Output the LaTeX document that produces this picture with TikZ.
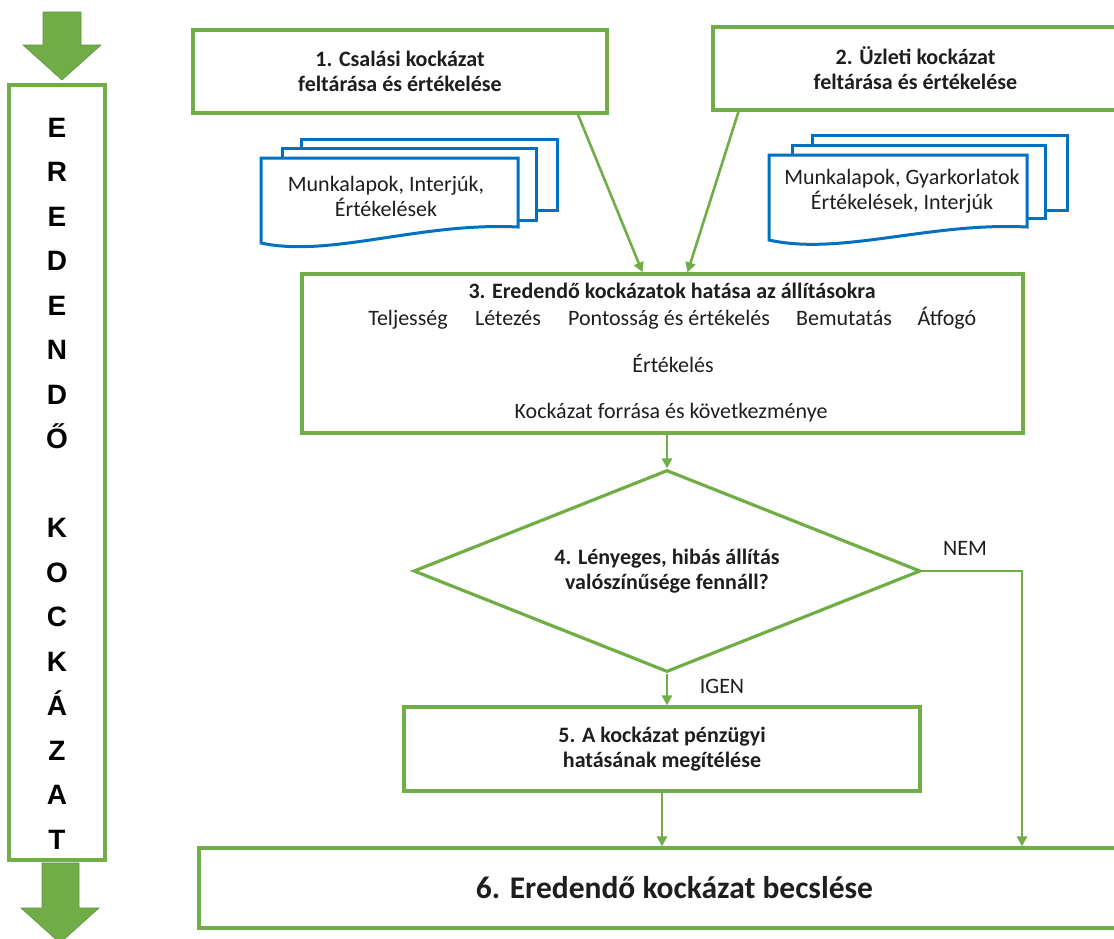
\documentclass[tikz,border=0pt]{standalone}
\usepackage{fontspec}
\setmainfont{Carlito}
\newfontfamily\letterfont{Liberation Sans}
\usetikzlibrary{arrows.meta,shapes.geometric}
\definecolor{boxgreen}{RGB}{112,173,71}
\definecolor{docblue}{RGB}{0,112,192}
\definecolor{txtgrey}{RGB}{30,30,30}

\begin{document}
\begin{tikzpicture}[x=1pt, y=-1pt,
    every node/.style = {text=txtgrey, font=\fontsize{22}{25}\selectfont},
    stepbox/.style = {draw=boxgreen, line width=3.2pt, fill=white, align=center,
        inner sep=0pt, font=\fontsize{22}{25}\selectfont\bfseries},
    decision/.style = {diamond, aspect=2.5, draw=boxgreen, line width=3.2pt, align=center,
        inner sep=0pt, font=\fontsize{22}{25}\selectfont\bfseries},
    sideletter/.style = {text=black, inner sep=0pt, text height=20pt, text depth=0pt,
        font=\letterfont\bfseries\fontsize{28}{28}\selectfont},
    page/.style = {draw=docblue, line width=3pt, fill=white, line join=miter},
    flow/.style = {draw=boxgreen, line width=2.6pt, -{Triangle[width=10pt,length=10pt]}},
    bigarrow/.style = {fill=boxgreen, draw=boxgreen!85!black, line width=0.6pt}]

    \useasboundingbox (0,0) rectangle (1114,938);
    \clip (0,0) rectangle (1114,938);

    % left column with the big arrows
    \draw[bigarrow] (43,12) -- (81,12) -- (81,45) -- (101,45) -- (62,80) -- (23,45) -- (43,45) -- cycle;
    \draw[bigarrow] (42,863) -- (79,863) -- (79,908) -- (99,908) -- (60,943) -- (21,908) -- (42,908) -- cycle;
    \node[stepbox, minimum width=96pt, minimum height=775pt] (side) at (57,472.5) {};
    \foreach \ch [count=\i] in {E,R,E,D,E,N,D,Ő,{},K,O,C,K,Á,Z,A,T}
        \node[sideletter] (let\i) at (57,{127+(\i-1)*44.5}) {\ch};

    % source boxes
    \node[stepbox, minimum width=414pt, minimum height=83pt] (b1) at (400,71.5)
        {1. Csalási kockázat\\feltárása és értékelése};
    \node[stepbox, minimum width=405pt, minimum height=83pt] (b2) at (915.5,68.5)
        {2. Üzleti kockázat\\feltárása és értékelése};

    % document stacks
    \draw[page] (301,139) rectangle (557,210);
    \draw[page] (282,148) rectangle (536,220);
    \draw[page] (261,158) -- (518,158) -- (518,227)
        .. controls (420,222) and (330,258) .. (261,243) -- cycle;
    \node[align=center] (doc1) at (386,196) {Munkalapok, Interjúk,\\Értékelések};

    \draw[page] (812,135) rectangle (1067,210);
    \draw[page] (792,145) rectangle (1045,218);
    \draw[page] (769,155) -- (1027,155) -- (1027,227)
        .. controls (930,222) and (840,256) .. (769,240) -- cycle;
    \node[align=center] (doc2) at (902,191) {Munkalapok, Gyarkorlatok\\Értékelések, Interjúk};

    % assertions box
    \node[stepbox, minimum width=721pt, minimum height=159pt] (eff) at (662.5,353.5) {};
    \node[anchor=base, font=\fontsize{22}{25}\selectfont\bfseries] (efftitle) at (672,298)
        {3. Eredendő kockázatok hatása az állításokra};
    \node[anchor=base] (tel) at (408,325) {Teljesség};
    \node[anchor=base] (let) at (508,325) {Létezés};
    \node[anchor=base] (pon) at (669,325) {Pontosság és értékelés};
    \node[anchor=base] (bem) at (844,325) {Bemutatás};
    \node[anchor=base] (atf) at (947,325) {Átfogó};
    \node[anchor=base] (ert) at (673,372) {Értékelés};
    \node[anchor=base] (forr) at (671,418) {Kockázat forrása és következménye};

    % decision and remaining steps
    \node[decision, minimum width=507pt, minimum height=202pt] (dia) at (667,571)
        {4. Lényeges, hibás állítás\\valószínűsége fennáll?};
    \node[stepbox, minimum width=516pt, minimum height=84pt] (b5) at (662,749)
        {5. A kockázat pénzügyi\\hatásának megítélése};
    \node[stepbox, minimum width=951pt, minimum height=80pt,
        font=\fontsize{31.5}{34}\selectfont\bfseries] (b6) at (674.5,888)
        {6. Eredendő kockázat becslése};

    \node (nem) at (965,548) {NEM};
    \node (igen) at (722,686) {IGEN};

    % connectors
    \draw[flow] ([xshift=178pt]b1.south) -- ([xshift=-20pt]eff.north);
    \draw[flow] ([xshift=-177pt]b2.south) -- ([xshift=25pt]eff.north);
    \draw[flow] (dia.north |- eff.south) -- (dia.north);
    \draw[flow] (dia.south) -- (dia.south |- b5.north);
    \coordinate (nemturn) at (1022,571);
    \draw[flow] (dia.east) -- (nemturn) -- (nemturn |- b6.north);
    \draw[flow] (b5.south) -- (b5.south |- b6.north);
\end{tikzpicture}
\end{document}
